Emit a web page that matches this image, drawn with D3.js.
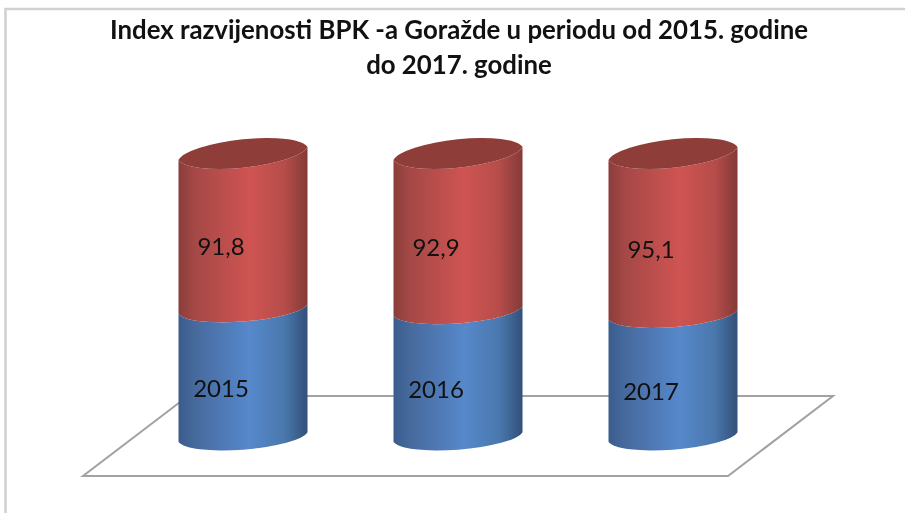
<!DOCTYPE html>
<html><head><meta charset="utf-8">
<script src="https://cdn.jsdelivr.net/npm/d3@7"></script>
<style>html,body{margin:0;padding:0;background:#fff}svg{display:block;filter:blur(0.45px)}text{font-family:Lato,"Open Sans",sans-serif}</style>
</head><body><svg id="c" width="905" height="513"></svg>
<script>
const titleLines = ["Index razvijenosti BPK -a Goražde u periodu od 2015. godine", "do 2017. godine"];
const years = ["2015", "2016", "2017"];
const indexValues = [91.8, 92.9, 95.1];
const remainderValues = [75.6, 74.5, 72.3];

const svg = d3.select("#c");
const defs = svg.append("defs");
function grad(id, stops){
  const g = defs.append("linearGradient").attr("id", id).attr("x1",0).attr("x2",1).attr("y1",0).attr("y2",0);
  stops.forEach(s => g.append("stop").attr("offset", s[0]).attr("stop-color", s[1]));
}
grad("red", [[0,"#8a3d3a"],[0.12,"#a44846"],[0.55,"#cf5452"],[0.82,"#b64d4a"],[1,"#843a37"]]);
grad("blue", [[0,"#3a5c8d"],[0.12,"#46699c"],[0.55,"#5688cb"],[0.82,"#4a78ad"],[1,"#325079"]]);

const x = d3.scaleBand().domain(years).range([135.5, 780.5]).paddingInner(0.4).paddingOuter(0.2);
const y = d3.scaleLinear().domain([0, 167.4]).range([437, 153.5]);

// frame
svg.append("path").attr("d","M5.5,513V9H905").attr("fill","none").attr("stroke","#d2d2d2").attr("stroke-width",2.6);

// floor
svg.append("path").attr("d","M83,476L728,476L833,396L188,396Z").attr("fill","#fff").attr("stroke","#a2a2a2").attr("stroke-width",2);

// tilted ellipse radii from half-width, half-height and tangent offset
function ell(w, h, off){
  const phi = 0.5*Math.atan2(2*off*w, w*w-h*h);
  const d = Math.hypot(w*w-h*h, 2*off*w), s = w*w+h*h;
  return {a:Math.sqrt((s+d)/2), b:Math.sqrt((s-d)/2), deg:-phi*180/Math.PI, off};
}
const topE = ell(65, 17.5, 6.5), lowE = ell(65, 15.2, 4.8);
function segment(x0, x1, yT, yB, eT, eB){
  return `M${x0},${yT+eT.off}L${x0},${yB+eB.off}`+
    `A${eB.a},${eB.b} ${eB.deg} 0 0 ${x1},${yB-eB.off}`+
    `L${x1},${yT-eT.off}`+
    `A${eT.a},${eT.b} ${eT.deg} 0 1 ${x0},${yT+eT.off}Z`;
}
const rows = years.map((yr,i)=>({yr, val:indexValues[i], rem:remainderValues[i]}));
const g = svg.selectAll("g.bar").data(rows).join("g").attr("class","bar");
g.append("path").attr("fill","url(#blue)").attr("d",d=>segment(x(d.yr),x(d.yr)+x.bandwidth(),y(d.rem),y(0),lowE,lowE));
g.append("path").attr("fill","url(#red)").attr("d",d=>segment(x(d.yr),x(d.yr)+x.bandwidth(),y(d.rem+d.val),y(d.rem),topE,lowE));
g.append("path").attr("fill","#8f3d39").attr("d",d=>{
  const x0=x(d.yr), x1=x0+x.bandwidth(), t=y(d.rem+d.val);
  return `M${x0},${t+topE.off}A${topE.a},${topE.b} ${topE.deg} 0 1 ${x1},${t-topE.off}A${topE.a},${topE.b} ${topE.deg} 0 1 ${x0},${t+topE.off}Z`;
});
const fmt = v => String(v).replace(".", ",");
g.append("text").attr("x",d=>x(d.yr)+x.bandwidth()/2-22).attr("y",d=>y(d.rem+d.val/2)+24)
  .attr("text-anchor","middle").attr("font-size",24).attr("fill","#111").text(d=>fmt(d.val));
g.append("text").attr("x",d=>x(d.yr)+x.bandwidth()/2-22).attr("y",d=>y(d.rem/2)+24)
  .attr("text-anchor","middle").attr("font-size",24).attr("fill","#111").text(d=>d.yr);

svg.selectAll("text.title").data(titleLines).join("text").attr("class","title")
  .attr("x",459).attr("y",(d,i)=>39+i*35).attr("text-anchor","middle")
  .attr("font-size",25.8).attr("font-weight",700).attr("fill","#111").text(d=>d);
</script></body></html>
